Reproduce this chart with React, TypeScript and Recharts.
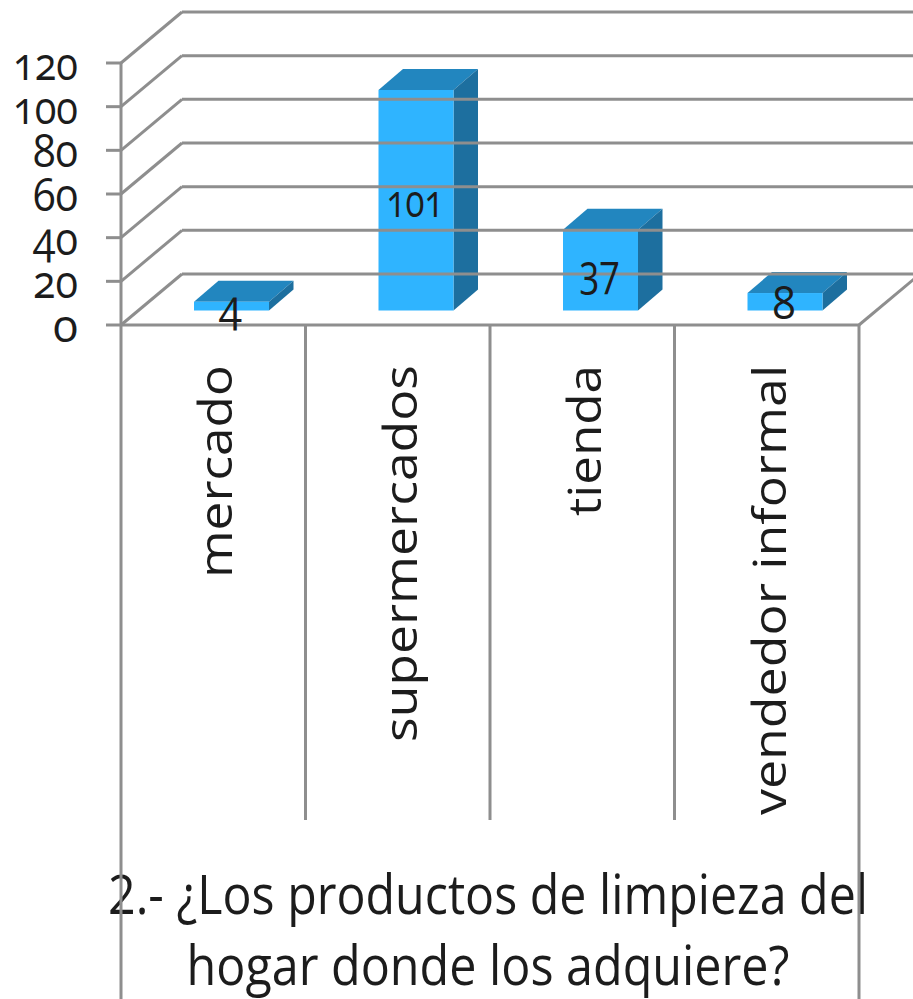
import { BarChart, Bar, XAxis, YAxis, LabelList } from "recharts";

const categories = ["mercado", "supermercados", "tienda", "vendedor informal"];
const values = [4, 101, 37, 8];
const yTicks = [0, 20, 40, 60, 80, 100, 120];
const titleLines = ["2.- ¿Los productos de limpieza del", "hogar donde los adquiere?"];

const data = categories.map((name, i) => ({ name, value: values[i] }));

const W = 913;
const H = 999;
const PLOT_LEFT = 121;
const PLOT_RIGHT = 859;
const PLOT_TOP = 63;
const FLOOR_Y = 325;
const BAND = (PLOT_RIGHT - PLOT_LEFT) / categories.length;

const WALL_DX = 61;
const WALL_DY = -51;
const BAR_SHIFT_X = 18;
const BAR_SHIFT_Y = -14.5;
const BOX_DX = 24.5;
const BOX_DY = -21;

const GRID = "#8e8e8e";
const INK = "#1c1c1c";
const FONT = "'Open Sans', sans-serif";
const numStyle = { fontFeatureSettings: "'onum'" };

// stretched run lengths for the rotated category names
const nameLength: Record<string, number> = {
  mercado: 213,
  supermercados: 377,
  tienda: 151,
  "vendedor informal": 450,
};
const titleLength = [760, 603];

function WallTick({ x, y, payload }: any) {
  return (
    <g>
      <line x1={PLOT_LEFT + WALL_DX} x2={PLOT_RIGHT + WALL_DX} y1={y + WALL_DY} y2={y + WALL_DY} stroke={GRID} strokeWidth={3} />
      <line x1={PLOT_LEFT} x2={PLOT_LEFT + WALL_DX} y1={y} y2={y + WALL_DY} stroke={GRID} strokeWidth={3} />
      <line x1={PLOT_LEFT - 15} x2={PLOT_LEFT} y1={y} y2={y} stroke={GRID} strokeWidth={3} />
      <text x={x - 35} y={y + 17} textAnchor="end" fontFamily={FONT} fontSize={45} fill={INK} style={numStyle}
        textLength={String(payload.value).length * 20 + 5} lengthAdjust="spacingAndGlyphs">
        {payload.value}
      </text>
    </g>
  );
}

function CategoryTick({ x, index, payload }: any) {
  const rightEdge = x + BAND / 2;
  const isLast = index === categories.length - 1;
  const baseX = x + 19;
  return (
    <g>
      {index === 0 && <line x1={PLOT_LEFT} x2={PLOT_LEFT} y1={FLOOR_Y} y2={H} stroke={GRID} strokeWidth={3} />}
      <line x1={rightEdge} x2={rightEdge} y1={FLOOR_Y} y2={isLast ? H : 820} stroke={GRID} strokeWidth={3} />
      {isLast && <line x1={PLOT_RIGHT} x2={PLOT_RIGHT + WALL_DX} y1={FLOOR_Y} y2={FLOOR_Y + WALL_DY} stroke={GRID} strokeWidth={3} />}
      <text x={baseX} y={365} textAnchor="end" transform={`rotate(-90 ${baseX} 365)`} fontFamily={FONT} fontSize={46} fill={INK}
        textLength={nameLength[payload.value]} lengthAdjust="spacingAndGlyphs">
        {payload.value}
      </text>
    </g>
  );
}

// extruded box: front face plus top and right side
function BoxBar({ x, y, width, height }: any) {
  const l = x + BAR_SHIFT_X;
  const r = l + width;
  const t = y + BAR_SHIFT_Y;
  const b = t + height;
  return (
    <g>
      <polygon points={`${l},${t} ${l + BOX_DX},${t + BOX_DY} ${r + BOX_DX},${t + BOX_DY} ${r},${t}`} fill="#2286bf" />
      <polygon points={`${r},${t} ${r + BOX_DX},${t + BOX_DY} ${r + BOX_DX},${b + BOX_DY} ${r},${b}`} fill="#1d6f9f" />
      <rect x={l} y={t} width={width} height={height} fill="#2fb4ff" />
    </g>
  );
}

function ValueLabel({ x, y, width, height, value }: any) {
  const cx = x + BAR_SHIFT_X + width / 2 - 1;
  const mid = y + BAR_SHIFT_Y + height / 2;
  return (
    <text x={cx} y={mid + 17} textAnchor="middle" fontFamily={FONT} fontSize={46} fill={INK} style={numStyle}
      textLength={String(value).length * 17 + 6} lengthAdjust="spacingAndGlyphs">
      {value}
    </text>
  );
}

export default function App() {
  return (
    <div style={{ position: "absolute", left: 0, top: 0, width: W, height: H, background: "#fff", overflow: "hidden" }}>
      <BarChart
        width={W}
        height={H}
        data={data}
        margin={{ top: PLOT_TOP, right: W - PLOT_RIGHT, bottom: 0, left: 0 }}
      >
        <YAxis
          width={PLOT_LEFT}
          domain={[0, 120]}
          ticks={yTicks}
          interval={0}
          tick={<WallTick />}
          tickLine={false}
          axisLine={{ stroke: GRID, strokeWidth: 3 }}
        />
        <XAxis
          dataKey="name"
          height={H - FLOOR_Y}
          interval={0}
          tick={<CategoryTick />}
          tickLine={false}
          axisLine={{ stroke: GRID, strokeWidth: 3 }}
        />
        <Bar dataKey="value" barSize={75} shape={<BoxBar />} isAnimationActive={false}>
          <LabelList dataKey="value" content={<ValueLabel />} />
        </Bar>
        {titleLines.map((line, i) => (
          <text key={line} x={488} y={914 + i * 71} textAnchor="middle" fontFamily={FONT} fontSize={54} fill={INK}
            textLength={titleLength[i]} lengthAdjust="spacingAndGlyphs">
            {line}
          </text>
        ))}
      </BarChart>
    </div>
  );
}
